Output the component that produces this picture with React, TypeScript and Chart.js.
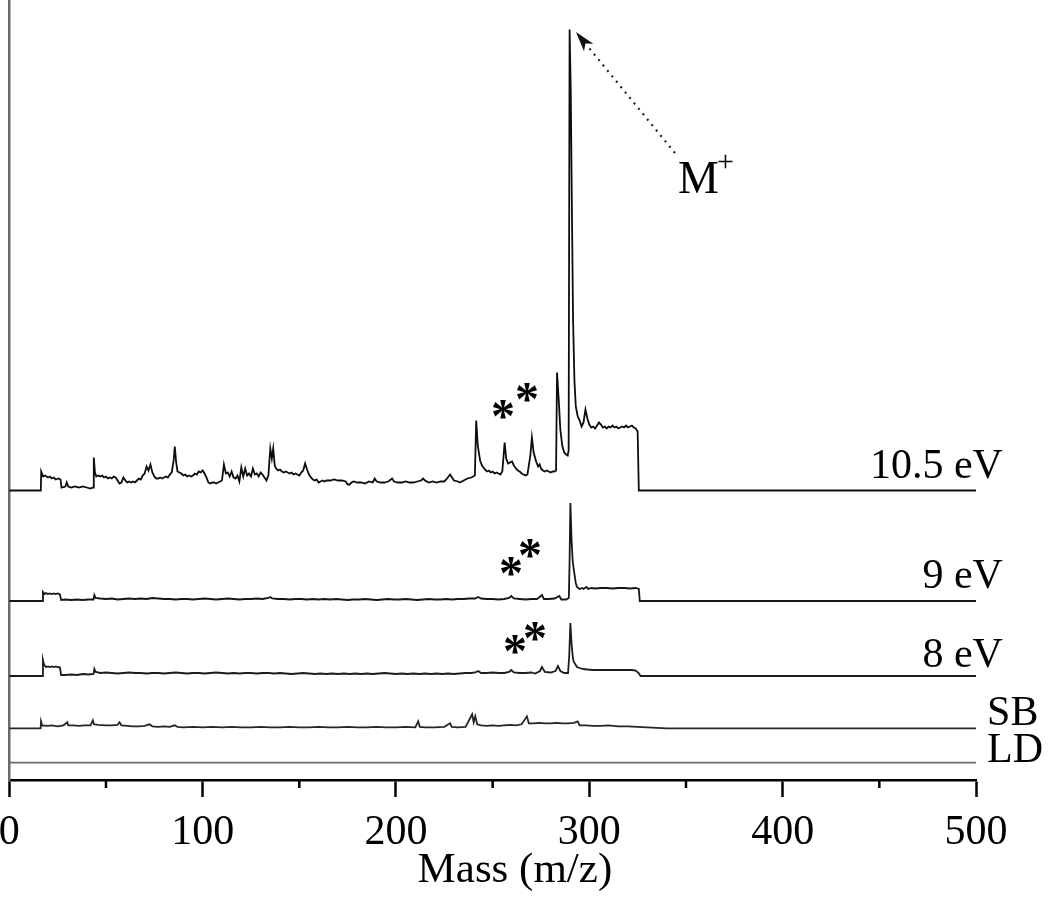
import React, { useEffect, useRef } from "react";
import { Chart, registerables } from "chart.js";

Chart.register(...registerables);

// ---- data (mass m/z, intensity above each trace's own baseline) ----
const trace105: [number, number][] = [
  [0, 0], [16.3, 0], [16.5, 19], [17.5, 14], [18.5, 15], [20, 13], [21, 14], [22, 12], [23, 13], [24, 11], [25.5, 12], [26.5, 11],
  [27, 3], [29, 4], [29.7, 8], [30.5, 4], [32, 3], [34, 4], [36, 3], [38, 4], [40, 3], [42, 2], [43.3, 3], [43.7, 33], [44.3, 18],
  [45, 14], [46, 15], [47, 14], [48, 15], [49, 13], [50, 14], [51, 12], [52, 13], [53, 12], [54, 14], [55, 13], [56, 10], [57, 7],
  [58, 8], [59, 13], [60, 10], [61, 8], [62, 9], [63, 8], [64, 9], [65, 8], [66, 10], [67, 12], [68, 11], [69, 15], [70, 17],
  [71, 24], [72, 20], [73, 26], [74, 18], [75, 14], [76, 12], [77, 12], [78, 13], [79, 12], [80, 13], [81, 14], [82, 13], [83, 16],
  [84, 18], [85, 30], [85.6, 44], [86.3, 28], [87, 19], [88, 18], [89, 17], [90, 15], [91, 16], [92, 14], [93, 15], [94, 14],
  [95, 15], [96, 17], [97, 16], [98, 19], [99, 18], [100, 20], [101, 17], [102, 13], [103, 8], [104, 7], [105, 8], [106, 8],
  [107, 7], [108, 8], [109, 9], [110, 10], [111, 26], [112, 17], [113, 18], [114, 14], [115, 19], [116, 13], [117, 12], [118, 15],
  [119, 9], [120, 23], [121, 14], [122, 22], [123, 15], [124, 17], [125, 14], [126, 22], [127, 16], [128, 17], [129, 14], [130, 18],
  [131, 16], [132, 13], [133, 10], [134, 15], [135, 42], [135.8, 32], [136.5, 42], [137.3, 25], [138, 22], [139, 20], [140, 21],
  [141, 19], [142, 18], [143, 19], [144, 18], [145, 17], [146, 18], [147, 16], [148, 17], [149, 16], [150, 15], [151, 18], [152, 20],
  [153, 27], [154, 21], [155, 16], [156, 13], [157, 11], [158, 10], [159, 11], [160, 8], [161, 9], [162, 10], [163, 9], [164, 10],
  [166, 10], [168, 11], [170, 10], [172, 10], [174, 9], [175, 6], [176, 6], [177, 8], [178, 9], [180, 8], [182, 8], [184, 7],
  [186, 9], [188, 8], [189, 12], [190, 9], [192, 8], [194, 8], [196, 9], [198, 12], [199, 9], [201, 8], [203, 8], [205, 9],
  [207, 8], [209, 8], [211, 9], [213, 10], [214, 12], [215, 10], [217, 8], [219, 9], [221, 8], [223, 9], [225, 9], [226, 11],
  [228, 16], [229, 13], [230, 10], [232, 9], [233, 8], [235, 10], [237, 12], [239, 13], [240.8, 15], [241.5, 70], [242.3, 45],
  [243.5, 30], [244.5, 25], [246, 21], [247, 19], [248, 20], [249, 18], [250, 19], [251, 17], [252, 18], [253, 17], [254, 16],
  [255, 19], [256.2, 48], [257, 32], [258, 27], [259, 28], [260, 29], [261, 25], [262, 22], [263, 20], [264, 19], [265, 17],
  [266, 16], [267, 15], [268, 16], [269.5, 35], [270.3, 53], [271.2, 38], [272.5, 29], [273.5, 24], [274.3, 26], [275, 22],
  [276, 20], [277, 19], [278, 20], [279, 19], [280, 18], [281, 19], [282, 19], [282.8, 20], [283.3, 118], [284.2, 90], [285, 61],
  [286, 45], [287, 38], [288, 36], [288.8, 35], [289.3, 40], [289.8, 461], [290.4, 400], [291, 280], [291.6, 170], [292.3, 110],
  [293, 84], [294, 74], [295, 70], [296, 64], [297, 68], [298, 81], [299, 72], [300, 66], [301, 63], [302, 64], [303, 62],
  [304, 65], [305, 68], [306, 66], [307, 63], [308, 64], [309, 62], [310, 64], [311, 63], [312, 65], [313, 63], [314, 64],
  [315, 62], [316, 63], [317, 64], [318, 63], [319, 65], [320, 63], [321, 64], [322, 65], [323, 63], [324, 62], [325, 59],
  [325.6, 0], [500, 0],
];

const trace9: [number, number][] = [
  [0, 0], [17.2, 0], [17.4, 9], [18.2, 7], [19, 8], [20, 7], [21, 7.5], [22, 7], [23, 7.5], [24, 7], [25, 7.5], [26.2, 6.5],
  [26.8, 1], [29, 1.5], [32, 1], [35, 1.5], [38, 1], [41, 1.5], [43.6, 1.5], [44, 6], [44.7, 3], [47, 2.5], [50, 2], [53, 2.5],
  [56, 1.5], [59, 2], [62, 2.5], [65, 2], [68, 2.5], [71, 2], [74, 3], [77, 2.5], [80, 2], [83, 2], [86, 1.5], [89, 2], [92, 2],
  [95, 1.5], [98, 2], [101, 2.5], [104, 2], [107, 1.5], [110, 2], [113, 2.5], [116, 2], [119, 1.5], [122, 2], [125, 2], [128, 2.5],
  [131, 2], [134, 3], [135, 4], [136, 2.5], [139, 2], [142, 2], [145, 1.5], [148, 2], [151, 2], [154, 1.5], [157, 2], [160, 1.5],
  [163, 2], [166, 1.5], [169, 2], [172, 1.5], [175, 1], [178, 1.5], [181, 1.5], [184, 2], [187, 1.5], [190, 1], [193, 1.5],
  [196, 2], [199, 1.5], [202, 1.5], [205, 2], [208, 1.5], [211, 1], [214, 1.5], [217, 2], [220, 1.5], [223, 1.5], [226, 2],
  [229, 1.5], [232, 2], [235, 2], [238, 2.5], [241, 2.5], [242.5, 4], [244, 2.5], [247, 2], [250, 2], [253, 1.5], [256, 2],
  [258.5, 3], [259.6, 5], [261, 2.5], [264, 2], [267, 1.5], [270, 2], [273, 2], [275.5, 6], [276.5, 2], [279, 2], [282, 2.5],
  [284.5, 5], [285.5, 1.5], [288, 1.5], [289.4, 3], [289.8, 40], [290.2, 98], [290.8, 62], [291.4, 40], [292, 31], [293, 18],
  [293.6, 14], [295, 12], [296.3, 13], [297, 12], [298.5, 14], [299.5, 12], [301, 13], [303, 12.5], [306, 13], [309, 13],
  [312, 12.5], [315, 13], [318, 13], [321, 12.5], [324, 13], [325.6, 12], [326.1, 0], [500, 0],
];

const trace8: [number, number][] = [
  [0, 0], [17.2, 0], [17.4, 16], [18, 11], [19, 9], [20, 9.5], [21, 9], [22, 9.5], [23, 9], [24, 9.5], [25, 9], [26.2, 8.5],
  [26.8, 1], [29, 1], [32, 1.5], [35, 1], [38, 2], [41, 1.5], [43.6, 2], [44, 7], [44.7, 4], [47, 3], [50, 3.5], [53, 3],
  [56, 2.5], [59, 3], [62, 3.5], [65, 3], [68, 3], [71, 2.5], [74, 3], [77, 3], [80, 2.5], [83, 3], [86, 3.5], [89, 3], [92, 2.5],
  [95, 3], [98, 3], [101, 2.5], [104, 3], [107, 3.5], [110, 3], [113, 2.5], [116, 3], [119, 2.5], [122, 3], [125, 3], [128, 2.5],
  [131, 3], [134, 3], [137, 2.5], [140, 3], [143, 2.5], [146, 2], [149, 2.5], [152, 3], [155, 2.5], [158, 2], [161, 2.5], [164, 2],
  [167, 2.5], [170, 2], [173, 2.5], [176, 2], [179, 2.5], [182, 2], [185, 2.5], [188, 2], [191, 2.5], [194, 3], [197, 2.5],
  [200, 2], [203, 2.5], [206, 2], [209, 2.5], [212, 2], [215, 2.5], [218, 2], [221, 2.5], [224, 2], [227, 2.5], [230, 2],
  [233, 2.5], [236, 3], [239, 3], [241, 3.5], [242.5, 5], [244, 3], [247, 3], [250, 3.5], [253, 3], [256, 3], [258.5, 4],
  [259.6, 6], [261, 3.5], [264, 3], [267, 3], [270, 3.5], [272, 2.5], [274.5, 5], [275.5, 9], [277, 4], [280, 3.5], [282.5, 5],
  [283.8, 10], [285, 5], [287, 3], [289, 3], [289.6, 20], [290.2, 53], [290.9, 30], [291.5, 18], [292, 14], [293, 11],
  [293.6, 9], [295, 8], [297, 7], [299, 6.5], [302, 6], [306, 6], [310, 6], [314, 6], [318, 6], [322, 6], [324, 5.5],
  [325.5, 3], [326.5, 0], [500, 0],
];

const traceSB: [number, number][] = [
  [0, 0], [16.2, 0], [16.4, 7], [17, 3], [20, 2.5], [22, 3], [25, 2], [28, 3], [30, 6], [30.5, 3], [33, 3], [36, 2.5], [39, 3],
  [42, 3], [43.2, 8], [43.8, 4], [46, 3.5], [50, 3], [53, 3], [56, 3.5], [57, 6], [58, 3], [61, 2.5], [64, 2], [67, 2],
  [70, 2.5], [72.5, 4], [74, 2], [77, 1.5], [80, 2], [83, 1.5], [85.5, 3], [87, 1.5], [90, 1], [95, 1.5], [100, 1], [105, 1.5],
  [110, 1], [115, 1.5], [120, 1], [125, 1], [130, 1.5], [135, 1], [140, 1], [145, 1.5], [150, 1], [155, 1], [160, 1.5], [165, 1],
  [170, 1], [175, 1.5], [180, 1], [185, 1], [190, 1.5], [195, 1], [200, 1], [205, 1.5], [210, 1], [211.5, 7], [212.3, 1.5],
  [215, 1], [220, 1], [225, 1.5], [228, 5], [228.8, 1.5], [232, 1], [236, 1.5], [239.4, 14], [240.2, 6], [241, 12], [242, 4],
  [244, 3], [247, 2.5], [250, 3], [253, 2.5], [256, 3], [259, 3.5], [262, 3], [265, 4], [267.7, 12], [268.7, 5], [271, 5],
  [274, 5.5], [277, 5], [280, 5], [283, 5.5], [286, 5], [289, 5], [292, 5.5], [294, 7], [295, 3], [298, 3], [302, 2.5],
  [306, 2.5], [310, 3], [315, 2], [320, 2], [325, 1.5], [330, 1], [335, 0.5], [340, 0], [500, 0],
];

const traceLD: [number, number][] = [[0, 0], [500, 0]];

// vertical offsets of each trace (stacked display)
const offsets = [289.5, 179, 104, 51.7, 17.3];
const traceNames = ["10.5 eV", "9 eV", "8 eV", "SB", "LD"];
const traces = [trace105, trace9, trace8, traceSB, traceLD];
const traceColors = ["#0d0d0d", "#161616", "#1c1c1c", "#262626", "#6a6a6a"];

const xTicks = [0, 100, 200, 300, 400, 500];
const minorTicks = [50, 150, 250, 350, 450];

// annotations (data coordinates)
const stars: [number, number][] = [
  [255.4, 371], [267.8, 388],
  [259.5, 214], [269.3, 231.5],
  [261.6, 136], [271.9, 149],
];
const traceLabelPos: [number, number, "left" | "right"][] = [
  [513.9, 302, "right"],
  [513.9, 192, "right"],
  [513.9, 113, "right"],
  [505.7, 55, "left"],
  [505.7, 18, "left"],
];
const arrowTail: [number, number] = [344.3, 627];
const arrowTip: [number, number] = [293.1, 748];
const mLabelPos: [number, number] = [346.9, 587];
const axisTitle = "Mass (m/z)";
const axisTitlePos: [number, number] = [261.5, -102];

const SERIF = "'Liberation Serif', 'Times New Roman', serif";

const annotPlugin = {
  id: "annot",
  afterDraw(chart: any) {
    const { ctx } = chart;
    const x = chart.scales.x;
    const y = chart.scales.y;
    const px = (m: number) => x.getPixelForValue(m);
    const py = (v: number) => y.getPixelForValue(v);
    ctx.save();
    // minor ticks
    ctx.strokeStyle = "#000";
    ctx.lineWidth = 2.5;
    for (const m of minorTicks) {
      const X = px(m);
      ctx.beginPath();
      ctx.moveTo(X, chart.chartArea.bottom);
      ctx.lineTo(X, chart.chartArea.bottom + 8);
      ctx.stroke();
    }
    ctx.fillStyle = "#000";
    // trace labels
    ctx.font = `42px ${SERIF}`;
    ctx.textBaseline = "alphabetic";
    traceNames.forEach((n, i) => {
      const [m, v, al] = traceLabelPos[i];
      ctx.textAlign = al;
      ctx.fillText(n, px(m), py(v));
    });
    // stars, centred on ink
    ctx.font = `bold 48px ${SERIF}`;
    ctx.textAlign = "center";
    for (const [m, v] of stars) {
      const mt = ctx.measureText("*");
      const asc = mt.actualBoundingBoxAscent;
      const desc = mt.actualBoundingBoxDescent;
      const base = py(v) + (asc - desc) / 2;
      ctx.fillText("*", px(m), base);
    }
    // M+ label
    ctx.textAlign = "left";
    ctx.font = `46px ${SERIF}`;
    const mx = px(mLabelPos[0]);
    const my = py(mLabelPos[1]);
    ctx.fillText("M", mx - 2, my);
    const mw = ctx.measureText("M").width;
    ctx.font = `30px ${SERIF}`;
    ctx.fillText("+", mx + mw - 4, my - 22);
    // dotted arrow
    const tx = px(arrowTail[0]), ty = py(arrowTail[1]);
    const hx = px(arrowTip[0]), hy = py(arrowTip[1]);
    const ang = Math.atan2(hy - ty, hx - tx);
    const headLen = 20;
    const bx = hx - headLen * Math.cos(ang), by = hy - headLen * Math.sin(ang);
    ctx.strokeStyle = "#222";
    ctx.lineWidth = 2.2;
    ctx.setLineDash([2, 5]);
    ctx.beginPath();
    ctx.moveTo(tx, ty);
    ctx.lineTo(bx, by);
    ctx.stroke();
    ctx.setLineDash([]);
    ctx.fillStyle = "#111";
    ctx.beginPath();
    ctx.moveTo(hx, hy);
    ctx.lineTo(bx + 6 * Math.sin(ang), by - 6 * Math.cos(ang));
    ctx.lineTo(hx - (headLen - 5) * Math.cos(ang), hy - (headLen - 5) * Math.sin(ang));
    ctx.lineTo(bx - 6 * Math.sin(ang), by + 6 * Math.cos(ang));
    ctx.closePath();
    ctx.fill();
    // axis title
    ctx.fillStyle = "#000";
    ctx.font = `43px ${SERIF}`;
    ctx.textAlign = "center";
    ctx.fillText(axisTitle, px(axisTitlePos[0]), py(axisTitlePos[1]));
    ctx.restore();
  },
};

export default function App() {
  const ref = useRef<HTMLCanvasElement | null>(null);
  useEffect(() => {
    if (!ref.current) return;
    const chart = new Chart(ref.current, {
      type: "scatter",
      data: {
        datasets: traces.map((t, i) => ({
          label: traceNames[i],
          data: t.map(([m, v]) => ({ x: m, y: offsets[i] + v })),
          showLine: true,
          borderColor: traceColors[i],
          borderWidth: 1.8,
          pointRadius: 0,
          tension: 0,
          fill: false,
        })),
      },
      options: {
        animation: false,
        responsive: false,
        devicePixelRatio: 1,
        layout: { padding: { left: 0, right: 74, top: 0, bottom: 0 } },
        plugins: { legend: { display: false }, tooltip: { enabled: false } },
        scales: {
          x: {
            type: "linear",
            min: 0,
            max: 500,
            afterBuildTicks: (s: any) => {
              s.ticks = xTicks.map((v) => ({ value: v }));
            },
            afterFit: (s: any) => {
              s.height = 117;
              s.paddingLeft = 0;
              s.paddingRight = 0;
            },
            ticks: {
              autoSkip: false,
              maxRotation: 0,
              color: "#000",
              padding: 11,
              font: { family: SERIF, size: 42 },
            },
            grid: {
              drawOnChartArea: false,
              drawTicks: true,
              tickLength: 17,
              tickWidth: 2.5,
              tickColor: "#000",
            },
            border: { display: true, color: "#000", width: 2.5 },
          },
          y: {
            type: "linear",
            min: 0,
            max: 780,
            afterFit: (s: any) => {
              s.width = 9.3;
            },
            ticks: { display: false },
            grid: { display: false },
            border: { display: true, color: "#6a6a6a", width: 2.5 },
          },
        },
      },
      plugins: [annotPlugin],
    } as any);
    return () => chart.destroy();
  }, []);
  return (
    <div style={{ position: "absolute", left: 0, top: 0, width: 1050, height: 897, background: "#fff" }}>
      <canvas ref={ref} width={1050} height={897} />
    </div>
  );
}
